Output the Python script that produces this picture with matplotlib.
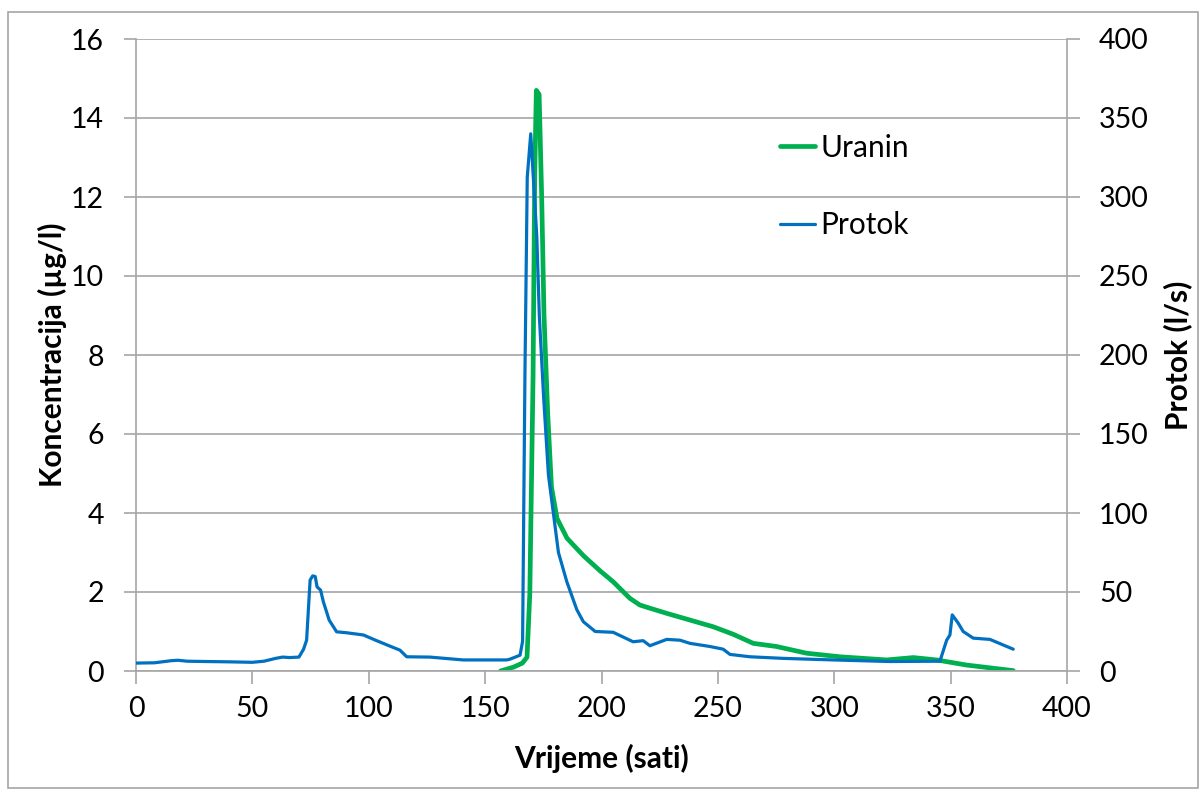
import matplotlib
matplotlib.use("Agg")
import matplotlib.pyplot as plt
from matplotlib.patches import Rectangle

plt.rcParams['font.family'] = ['Lato', 'DejaVu Sans']

# Uranin concentration (ug/l) vs time (h)
uranin_t = [156.6, 162.3, 166, 168, 169.2, 170.6, 171.3, 172.0, 173.2, 174.3,
            175.3, 176.9, 178.5, 180.9, 185.2, 192.4, 199.5, 205, 212.2, 216.5,
            220.8, 228, 238, 248, 256.6, 265.2, 275.2, 288.1, 302.4, 322.5,
            334, 344, 356.9, 376.9]
uranin_c = [0.0, 0.1, 0.2, 0.35, 1.96, 7.47, 12.5, 14.7, 14.6, 12.0,
            9.0, 6.5, 4.66, 3.86, 3.36, 2.91, 2.53, 2.26, 1.84, 1.67,
            1.59, 1.46, 1.29, 1.12, 0.93, 0.70, 0.62, 0.45, 0.36, 0.28,
            0.34, 0.28, 0.15, 0.01]

# Protok (l/s) vs time (h)
protok_t = [0, 8, 15, 18, 22, 30, 40, 50, 55, 60, 63, 66, 70, 72, 73.3, 74.8,
            75.9, 77, 77.8, 79.3, 80.5, 83, 86.2, 90.5, 97.7, 103.4, 109, 113.4,
            116.3, 126.3, 140.6, 159.3, 160.7, 165, 166.1, 167.1, 168.1, 169.6,
            170.7, 172.2, 173.3, 175.1, 177.2, 179.4, 181.5, 185.1, 189.4, 192.2,
            197.3, 205, 213.6, 217.9, 220.8, 228, 233.7, 238, 246.6, 252.3,
            255.2, 263.8, 278, 299.6, 323.9, 345.4, 348.3, 349.7, 350.7, 353.3,
            355.4, 359.7, 366.9, 376.9]
protok_q = [5.0, 5.2, 6.5, 6.8, 6.2, 6.0, 5.8, 5.5, 6.2, 8.0, 8.8, 8.5, 8.8, 13.8, 19.5, 57.5,
            60.2, 59.8, 53.2, 51.2, 43.8, 32.2, 24.8, 24.2, 22.8, 19.2, 15.8, 13.2,
            9.0, 8.8, 7.0, 7.0, 7.5, 10, 18.8, 186.8, 312.5, 340,
            312.5, 275, 224.5, 174.2, 124, 99, 75, 56.5, 38.8, 31.2,
            25, 24.5, 18.5, 19.2, 16, 20, 19.5, 17.5, 15.5, 13.8,
            10.5, 9, 8, 7, 6, 6.2, 19.5, 22.8, 35.5, 30.2,
            25, 20.8, 20, 13.8]

green = '#00B050'
blue = '#0070C0'
grey = '#A6A6A6'

fig = plt.figure(figsize=(12.03, 7.91), dpi=100)
fig.patches.append(Rectangle((8 / 1203, 3 / 791), 1190 / 1203, 776 / 791,
                             transform=fig.transFigure, fill=False,
                             edgecolor=grey, linewidth=1.2))

ax = fig.add_axes([136 / 1203, 120 / 791, 931 / 1203, 632 / 791])
ax2 = ax.twinx()

l1, = ax.plot(uranin_t, uranin_c, color=green, linewidth=3.4, label='Uranin',
              solid_capstyle='round', solid_joinstyle='round')
l2, = ax2.plot(protok_t, protok_q, color=blue, linewidth=2.3, label='Protok',
               solid_capstyle='round', solid_joinstyle='round')

ax.set_xlim(0, 400)
ax.set_ylim(0, 16)
ax2.set_ylim(0, 400)
ax.set_xticks(range(0, 401, 50))
ax.set_yticks(range(0, 17, 2))
ax2.set_yticks(range(0, 401, 50))

ax.yaxis.grid(True, color=grey, linewidth=1.2)
ax.set_axisbelow(True)

for a in (ax, ax2):
    for s in a.spines.values():
        s.set_color(grey)
        s.set_linewidth(1.2)
    a.spines['top'].set_visible(False)
    a.tick_params(colors=grey, labelcolor='black', labelsize=20.5,
                  length=9, width=1.2, direction='out')
ax.spines['right'].set_visible(False)
ax2.spines['left'].set_visible(False)
ax2.spines['bottom'].set_visible(False)
ax.tick_params(axis='x', pad=9)
ax.tick_params(axis='y', pad=14)
ax2.tick_params(axis='y', pad=14)

ax.set_xlabel('Vrijeme (sati)', fontsize=21.5, fontweight='bold', labelpad=16)
ax.set_ylabel('Koncentracija (µg/l)', fontsize=21.5, fontweight='bold', labelpad=3)
ax2.set_ylabel('Protok (l/s)', fontsize=21.5, fontweight='bold', labelpad=10)

ax2.legend(handles=[l1, l2], loc='upper left', bbox_to_anchor=(0.692, 0.85),
           frameon=False, fontsize=21.5, handlelength=1.17, handletextpad=0.17,
           labelspacing=1.65, borderpad=0, borderaxespad=0)

fig.savefig('out.png', dpi=100)
